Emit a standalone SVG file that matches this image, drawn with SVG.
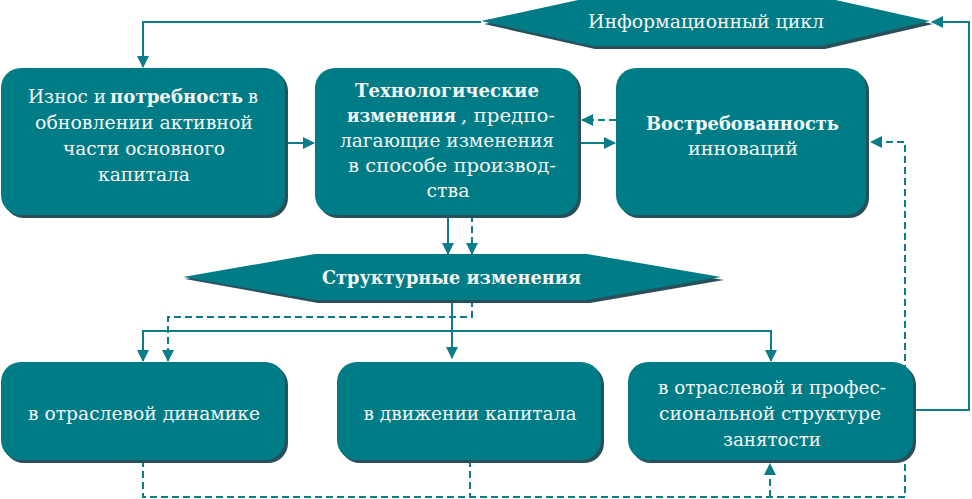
<svg xmlns="http://www.w3.org/2000/svg" width="972" height="499" viewBox="0 0 972 499">
<defs>
<style>
.box{fill:#007c86}
.sh{fill:#2b4e5b}
.t{font-family:"DejaVu Serif","Liberation Serif",serif;font-size:19px;fill:#f4f6f6;text-anchor:middle}
.s{text-anchor:start}
.b{font-weight:bold}
.ln{fill:none;stroke:#0b7d88;stroke-width:2}
.ds{stroke-dasharray:7,4}
</style>
<marker id="ah" markerUnits="userSpaceOnUse" markerWidth="12" markerHeight="12" viewBox="0 0 12 12" refX="11" refY="6" orient="auto">
<path d="M0,0 L12,6 L0,12 Z" fill="#0b7d88"/>
</marker>
</defs>
<rect width="972" height="499" fill="#ffffff"/>
<g id="connectors">
<path class="ln" d="M481,22 H143 V67" marker-end="url(#ah)"/>
<path class="ln" d="M914,410 H969 V22 H932" marker-end="url(#ah)"/>
<path class="ln" d="M286,143 H314" marker-end="url(#ah)"/>
<path class="ln" d="M578,143 H615" marker-end="url(#ah)"/>
<path class="ln ds" d="M616,120 H582" marker-end="url(#ah)"/>
<path class="ln ds" d="M143,460 V497 H905 V142 H871" marker-end="url(#ah)"/>
<path class="ln ds" d="M470,460 V497"/>
<path class="ln ds" d="M770,497 V464" marker-end="url(#ah)"/>
<path class="ln" d="M448,215 V254" marker-end="url(#ah)"/>
<path class="ln ds" d="M472,215 V254" marker-end="url(#ah)"/>
<path class="ln" d="M452,300 V358" marker-end="url(#ah)"/>
<path class="ln" d="M143,361 V331 H771 V361" marker-end="url(#ah)"/>
<path class="ln" d="M143,331 V361" marker-end="url(#ah)"/>
<path class="ln ds" d="M472,300 V317 H168 V361" marker-end="url(#ah)"/>
</g>
<g id="info-cycle">
<polygon class="sh" points="484,24 595,0 825,0 933,24 825,49 595,49"/>
<polygon class="box" points="481,21 592,-3 822,-3 930,21 822,46 592,46"/>
<text class="t" x="706" y="28" textLength="236" lengthAdjust="spacingAndGlyphs">Информационный цикл</text>
</g>
<g id="wear">
<rect class="sh" x="4" y="71" width="284" height="147" rx="20"/>
<rect class="box" x="1" y="68" width="284" height="147" rx="20"/>
<text class="t s" x="28" y="103" textLength="78" lengthAdjust="spacingAndGlyphs">Износ и</text>
<text class="t s b" x="110" y="103" textLength="133" lengthAdjust="spacingAndGlyphs">потребность</text>
<text class="t s" x="248" y="103" textLength="10" lengthAdjust="spacingAndGlyphs">в</text>
<text class="t" x="144" y="129" textLength="218" lengthAdjust="spacingAndGlyphs">обновлении активной</text>
<text class="t" x="144" y="155" textLength="162" lengthAdjust="spacingAndGlyphs">части основного</text>
<text class="t" x="144" y="181" textLength="92" lengthAdjust="spacingAndGlyphs">капитала</text>
</g>
<g id="tech">
<rect class="sh" x="318" y="71" width="263" height="147" rx="20"/>
<rect class="box" x="315" y="68" width="263" height="147" rx="20"/>
<text class="t b" x="447" y="97" textLength="184" lengthAdjust="spacingAndGlyphs">Технологические</text>
<text class="t s b" x="347" y="122" font-size="17" textLength="109" lengthAdjust="spacingAndGlyphs">изменения</text>
<text class="t s" x="461" y="122" textLength="94" lengthAdjust="spacingAndGlyphs">, предпо-</text>
<text class="t" x="447" y="147" textLength="214" lengthAdjust="spacingAndGlyphs">лагающие изменения</text>
<text class="t" x="452" y="172" textLength="208" lengthAdjust="spacingAndGlyphs">в способе производ-</text>
<text class="t" x="448" y="197" textLength="43" lengthAdjust="spacingAndGlyphs">ства</text>
</g>
<g id="demand">
<rect class="sh" x="619" y="71" width="250" height="147" rx="20"/>
<rect class="box" x="616" y="68" width="250" height="147" rx="20"/>
<text class="t b" x="742.5" y="130" textLength="193" lengthAdjust="spacingAndGlyphs">Востребованность</text>
<text class="t" x="743" y="155" textLength="110" lengthAdjust="spacingAndGlyphs">инноваций</text>
</g>
<g id="structural">
<polygon class="sh" points="185,279 318,257 590,257 724,280 590,303 318,303"/>
<polygon class="box" points="183,277 315,254 587,254 721,277 587,300 315,300"/>
<text class="t b" x="451.5" y="284" textLength="259" lengthAdjust="spacingAndGlyphs">Структурные изменения</text>
</g>
<g id="industry">
<rect class="sh" x="4" y="365" width="284" height="98" rx="20"/>
<rect class="box" x="1" y="362" width="284" height="98" rx="20"/>
<text class="t" x="144" y="420" textLength="232" lengthAdjust="spacingAndGlyphs">в отраслевой динамике</text>
</g>
<g id="capital">
<rect class="sh" x="340" y="365" width="264" height="98" rx="20"/>
<rect class="box" x="337" y="362" width="264" height="98" rx="20"/>
<text class="t" x="470" y="420" textLength="213" lengthAdjust="spacingAndGlyphs">в движении капитала</text>
</g>
<g id="employment">
<rect class="sh" x="631" y="365" width="285" height="98" rx="20"/>
<rect class="box" x="628" y="362" width="285" height="98" rx="20"/>
<text class="t" x="772" y="394" textLength="228" lengthAdjust="spacingAndGlyphs">в отраслевой и профес-</text>
<text class="t" x="770" y="420" textLength="222" lengthAdjust="spacingAndGlyphs">сиональной структуре</text>
<text class="t" x="772" y="446" textLength="98" lengthAdjust="spacingAndGlyphs">занятости</text>
</g>
</svg>
